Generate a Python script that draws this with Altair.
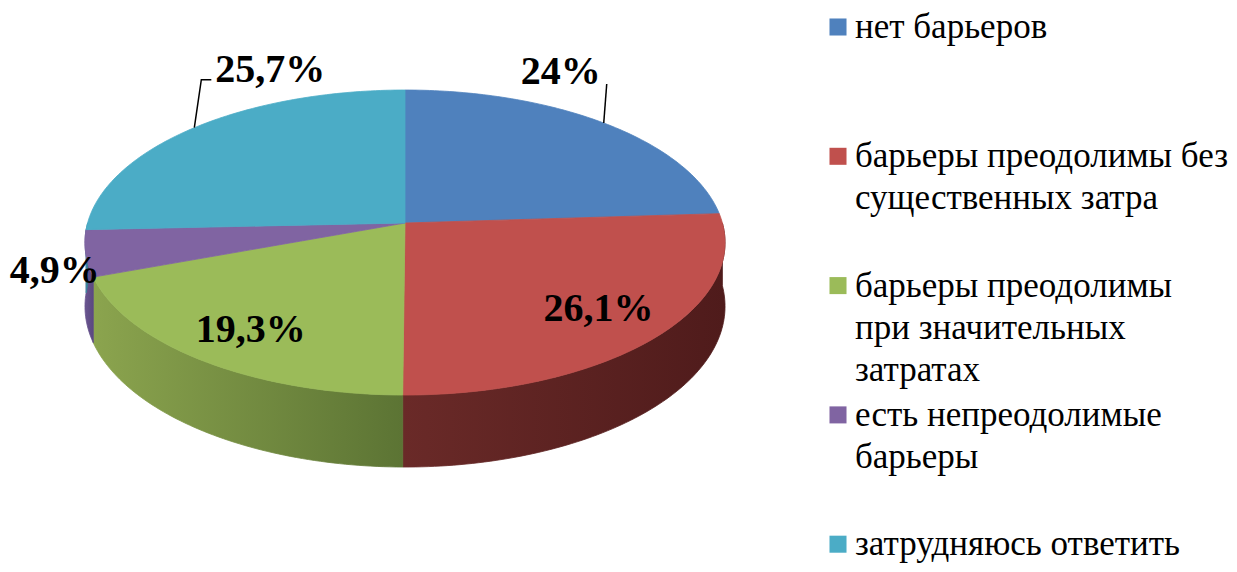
import math
import altair as alt
import pandas as pd

# ---------------- data ----------------
categories = [
    "нет барьеров",
    "барьеры преодолимы без существенных затра",
    "барьеры преодолимы при значительных затратах",
    "есть непреодолимые барьеры",
    "затрудняюсь ответить",
]
legend_text = [
    "нет барьеров",
    "барьеры преодолимы без\nсущественных затра",
    "барьеры преодолимы\nпри значительных\nзатратах",
    "есть непреодолимые\nбарьеры",
    "затрудняюсь ответить",
]
values = [24.0, 26.1, 19.3, 4.9, 25.7]
value_labels = ["24%", "26,1%", "19,3%", "4,9%", "25,7%"]
colors = ["#4F81BD", "#C0504D", "#9BBB59", "#8064A2", "#4BACC6"]
wall_colors = [
    ("#3d6796", "#2f5580"),
    ("#6a2a28", "#4f1b1b"),
    ("#8ba44e", "#5c7434"),
    ("#6a5590", "#5a4880"),
    ("#3c8ea4", "#357f93"),
]

# ---------------- layout (pixel space of the picture) ----------------
W, H_ = 1221, 556
CX, CY = 405.0, 223.0      # apex of the pie
RX, RY = 317.4, 150.0      # disk radii before perspective
PERSP = 0.128              # perspective strength
DEPTH = 62.8               # thickness of the pie
FONT = "Liberation Serif, Times New Roman, serif"

xs = alt.Scale(domain=[8, 8 + W], nice=False, zero=False)
ys = alt.Scale(domain=[8, 8 + H_], nice=False, zero=False, reverse=True)


def proj(theta_deg, r=1.0, drop=0.0):
    t = math.radians(theta_deg)
    z = r * math.cos(t)
    k = 1.0 / (1.0 + PERSP * z)
    x = CX + RX * r * math.sin(t) * k
    y = CY - RY * r * math.cos(t) * k + drop * k
    return x, y


def arc_points(a0, a1, drop=0.0):
    n = max(2, int(abs(a1 - a0)) + 1)
    return [proj(a0 + (a1 - a0) * i / (n - 1), 1.0, drop) for i in range(n)]


total = sum(values)
starts, ends = [], []
acc = 0.0
for v in values:
    starts.append(acc / total * 360.0)
    acc += v
    ends.append(acc / total * 360.0)


def xy():
    return dict(
        x=alt.X("x:Q", scale=xs, axis=None),
        y=alt.Y("y:Q", scale=ys, axis=None),
        order=alt.Order("o:Q"),
    )


layers = []

# side walls (visible front half: 90..270 degrees)
for i in range(len(values)):
    s, e = max(starts[i], 90.0), min(ends[i], 270.0)
    if e - s <= 0.05:
        continue
    pts = arc_points(s, e) + arc_points(e, s, DEPTH)
    pts.append(pts[0])
    df = pd.DataFrame({"x": [p[0] for p in pts], "y": [p[1] for p in pts], "o": range(len(pts))})
    grad = alt.LinearGradient(
        gradient="linear",
        stops=[alt.GradientStop(color=wall_colors[i][0], offset=0),
               alt.GradientStop(color=wall_colors[i][1], offset=1)],
        x1=0, x2=1, y1=0, y2=0,
    )
    layers.append(
        alt.Chart(df).mark_line(fill=grad, stroke=grad, strokeWidth=0.8).encode(**xy())
    )

# top faces
for i in range(len(values)):
    pts = [proj(0, 0.0)] + arc_points(starts[i], ends[i]) + [proj(0, 0.0)]
    df = pd.DataFrame({"x": [p[0] for p in pts], "y": [p[1] for p in pts], "o": range(len(pts))})
    layers.append(
        alt.Chart(df).mark_line(fill=colors[i], stroke=colors[i], strokeWidth=0.8).encode(**xy())
    )

# data labels
mids = [(s + e) / 2 for s, e in zip(starts, ends)]
inside = {1: 0.77, 2: 0.79}
lab_rows = []
leader_rows = []
for i, m in enumerate(mids):
    if i in inside:
        x, y = proj(m, inside[i])
        lab_rows.append({"x": x + 3, "y": y + 13, "t": value_labels[i], "a": "center"})
    else:
        ax, ay = proj(m, 1.0)
        if i == 0:
            tx, ty = ax + 3, ay - 39
            leader_rows += [{"x": ax, "y": ay, "o": 0, "g": i}, {"x": tx, "y": ty, "o": 1, "g": i}]
            lab_rows.append({"x": tx - 6, "y": ty, "t": value_labels[i], "a": "right"})
        elif i == 4:
            ex, ey = ax + 7, ay - 48
            leader_rows += [{"x": ax, "y": ay, "o": 0, "g": i}, {"x": ex, "y": ey, "o": 1, "g": i},
                            {"x": ex + 10, "y": ey, "o": 2, "g": i}]
            lab_rows.append({"x": ex + 14, "y": ey + 2, "t": value_labels[i], "a": "left"})
        else:
            lab_rows.append({"x": ax + 14, "y": ay + 30, "t": value_labels[i], "a": "right"})

lead_df = pd.DataFrame(leader_rows)
layers.append(
    alt.Chart(lead_df).mark_line(color="black", strokeWidth=1.5).encode(
        x=alt.X("x:Q", scale=xs, axis=None), y=alt.Y("y:Q", scale=ys, axis=None),
        order="o:Q", detail="g:N")
)

lab_df = pd.DataFrame(lab_rows)
for al in ["left", "center", "right"]:
    sub = lab_df[lab_df["a"] == al]
    if len(sub) == 0:
        continue
    layers.append(
        alt.Chart(sub).mark_text(font=FONT, fontWeight="bold", fontSize=40, align=al,
                                 baseline="alphabetic", color="black").encode(
            x=alt.X("x:Q", scale=xs, axis=None), y=alt.Y("y:Q", scale=ys, axis=None), text="t:N")
    )

# legend
LEG_X, LEG_Y0, LEG_STEP = 855.0, 38.0, 129.3
leg_df = pd.DataFrame({
    "cat": categories,
    "txt": legend_text,
    "col": colors,
    "tx": [LEG_X] * len(categories),
    "sx": [LEG_X - 17] * len(categories),
    "ty": [LEG_Y0 + LEG_STEP * i for i in range(len(categories))],
    "sy": [LEG_Y0 - 11 + LEG_STEP * i for i in range(len(categories))],
})
layers.append(
    alt.Chart(leg_df).mark_square(size=290, opacity=1).encode(
        x=alt.X("sx:Q", scale=xs, axis=None), y=alt.Y("sy:Q", scale=ys, axis=None),
        color=alt.Color("col:N", scale=None, legend=None))
)
layers.append(
    alt.Chart(leg_df).mark_text(font=FONT, fontSize=35, align="left", baseline="alphabetic",
                                lineBreak="\n", lineHeight=42, color="black").encode(
        x=alt.X("tx:Q", scale=xs, axis=None), y=alt.Y("ty:Q", scale=ys, axis=None), text="txt:N")
)

chart = alt.layer(*layers).properties(
    width=W, height=H_, padding=0, background="white",
    autosize=alt.AutoSizeParams(type="none")
).configure_view(strokeWidth=0, stroke="transparent")

chart.save("out.html", embed_options={"renderer": "svg", "actions": False})
